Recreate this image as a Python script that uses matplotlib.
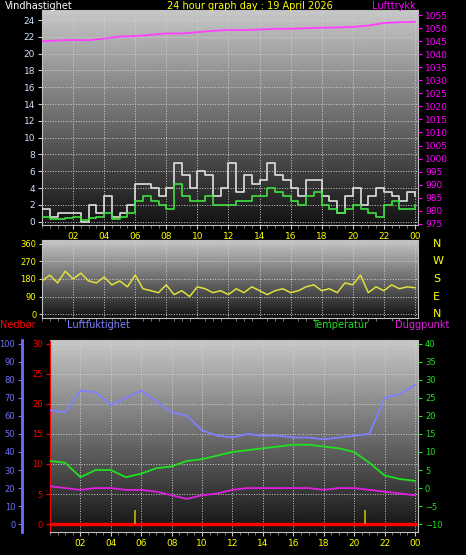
import numpy as np
import matplotlib
matplotlib.use("Agg")
import matplotlib.pyplot as plt

hours = [0.5 * i for i in range(49)]
gust = [1.5,0.5,1,1,1,0,2,1,3,0.5,1,2,4.5,4.5,4,3,4,7,5.5,4,6,5.5,3,4,7,3.5,5.5,4.5,5,7,5.5,5,4,3,5,5,3,2.5,1,3,4,2,3,4,3.5,3,2.5,3.5,3]
avg = [0.5,0.3,0.3,0.4,0.5,0.2,0.4,0.5,1,0.3,0.5,1,2.5,3,2.5,2,1.5,4.5,3,2.5,2.5,3,2,2,2,2.5,2.5,3,3,4,3.5,3,2.5,2,3,3.5,2,1.5,1,1.5,2,1.5,1,0.5,2,2.5,1.5,1.5,2]
direction = [170,200,160,220,180,210,170,160,190,150,170,140,200,130,120,110,150,100,120,90,140,130,110,120,100,130,110,140,120,100,120,130,110,120,140,150,120,130,110,160,150,200,110,140,120,150,130,140,135]
hh = list(range(25))
pressure = [1045,1045.3,1045.5,1045.4,1046,1046.8,1047,1047.5,1048,1048,1048.5,1049,1049.3,1049.3,1049.5,1049.8,1049.8,1050,1050.2,1050.3,1050.5,1051,1052,1052.3,1052.5]
humidity = [63,62,74,73,66,70,74,68,62,60,52,49,48,50,49,49,48,48,47,48,49,50,70,72,77]
temperature = [7.5,7,3,5,5,3,4,5.5,6,7.5,8,9,10,10.5,11,11.5,12,12,11.5,11,10,7,3.5,2.5,2]
dewpoint = [0.5,0,-0.5,0,0,-0.5,-0.5,-1,-2,-3,-2,-1.5,-0.5,0,0,0,0,0,-0.5,0,0,-0.5,-1,-1.5,-2]
precip = [0]*25
events = [5.6, 20.7]
xlabels = ['02','04','06','08','10','12','14','16','18','20','22','00']

W, H = 466, 555
fig = plt.figure(figsize=(W/100, H/100), dpi=100, facecolor='black')

def ax_at(x0, y0, x1, y1):
    return fig.add_axes([x0/W, 1-y1/H, (x1-x0)/W, (y1-y0)/H])

def style(ax, xt=True):
    ax.set_facecolor('black')
    grad = np.linspace(0, 1, 256).reshape(-1, 1)
    ax.imshow(grad, aspect='auto', cmap='gray', extent=[0, 1, 0, 1], transform=ax.transAxes,
              vmin=-0.1, vmax=1.3, origin='lower', zorder=0)
    ax.set_xlim(0, 24.2)
    ax.set_xticks(range(2, 25, 2))
    ax.set_xticks(np.arange(0, 24.2, 0.5), minor=True)
    ax.set_xticklabels(xlabels if xt else [])
    ax.tick_params(axis='x', colors='#c8c8c8', labelcolor='yellow', labelsize=6.5, length=3, pad=2)
    ax.tick_params(axis='x', which='minor', colors='#888', length=2)
    ax.grid(True, color='#d0d0d0', linestyle=':', linewidth=0.7)
    for s in ax.spines.values():
        s.set_color('#c0c0c0')

# top
ax1 = ax_at(42, 10, 418, 225)
style(ax1)
ax1.set_ylim(-0.4, 25.2)
ax1.set_yticks(range(0, 25, 2))
ax1.tick_params(axis='y', colors='#c8c8c8', labelcolor='#cfe0ff', labelsize=6.5, length=3, pad=2)
ax1.step(hours, gust, where='post', color='#e0e0e0', lw=1.2, zorder=3)
ax1.step(hours, avg, where='post', color='#40e040', lw=1.2, zorder=4)
ax1r = ax1.twinx()
ax1r.set_ylim(974.5, 1057)
ax1r.set_yticks(range(975, 1056, 5))
ax1r.tick_params(axis='y', colors='magenta', labelsize=6.5, length=3, pad=2)
ax1r.plot(hh, pressure, color='#ff40ff', lw=1.3)
for s in ax1r.spines.values():
    s.set_visible(False)

fig.text(5/W, 1-1/H, 'Vindhastighet', color='white', fontsize=7, va='top')
fig.text(250/W, 1-1/H, '24 hour graph day : 19 April 2026', color='yellow', fontsize=7, va='top', ha='center')
fig.text(372/W, 1-1/H, 'Lufttrykk', color='magenta', fontsize=7, va='top')

# middle
ax2 = ax_at(42, 240, 418, 318)
style(ax2, xt=False)
ax2.tick_params(axis='x', length=0)
ax2.set_ylim(-20, 380)
ax2.set_yticks([0, 90, 180, 270, 360])
ax2.tick_params(axis='y', colors='#c8c8c8', labelcolor='yellow', labelsize=6, length=2, pad=2)
ax2.plot(hours, direction, color='#e0e040', lw=1.1, zorder=3)
for lab, v in zip('NWSEN', [360, 270, 180, 90, 0]):
    ax2.text(1.04, (v+20)/400, lab, color='yellow', fontsize=8, transform=ax2.transAxes, va='center')

# bottom
ax3 = ax_at(50, 340, 418, 532)
style(ax3)
ax3.set_ylim(-1.3, 30.6)
ax3.set_yticks(range(0, 31, 5))
ax3.tick_params(axis='y', colors='red', labelsize=6, length=3, pad=2)
ax3.spines['left'].set_color('red')
ax3.plot(hh, precip, color='red', lw=2.5, zorder=5)
ax3.vlines(events, 0, 2.4, color='#c8b400', lw=1.2, zorder=5)

ax3h = ax3.twinx()
ax3h.yaxis.set_ticks_position('left')
ax3h.spines['left'].set_position(('outward', 20))
ax3h.spines['left'].set_color('#7070ff')
ax3h.spines['left'].set_linewidth(2)
for s in ['right', 'top', 'bottom']:
    ax3h.spines[s].set_visible(False)
ax3h.set_ylim(-1.3/30*100, 30.6/30*100)
ax3h.set_yticks(range(0, 101, 10))
ax3h.tick_params(axis='y', colors='#7070ff', labelsize=6, length=3, pad=2)
ax3h.plot(hh, humidity, color='#8080ff', lw=1.3)

ax3t = ax3.twinx()
for s in ax3t.spines.values():
    s.set_visible(False)
ax3t.set_ylim(-10 - 1.3/30*50, -10 + 30.6/30*50)
ax3t.set_yticks(range(-10, 41, 5))
ax3t.tick_params(axis='y', colors='#20e020', labelsize=6, length=3, pad=2)
ax3t.plot(hh, temperature, color='#20e020', lw=1.3)
ax3t.plot(hh, dewpoint, color='#e020e0', lw=1.3)

fig.text(0/W, 1-320/H, 'Nedbør', color='red', fontsize=7, va='top')
fig.text(67/W, 1-320/H, 'Luftfuktighet', color='#8080ff', fontsize=7, va='top')
fig.text(312/W, 1-320/H, 'Temperatur', color='#20e020', fontsize=7, va='top')
fig.text(395/W, 1-320/H, 'Duggpunkt', color='#e020e0', fontsize=7, va='top')

fig.savefig('out.png', dpi=100, facecolor='black')
